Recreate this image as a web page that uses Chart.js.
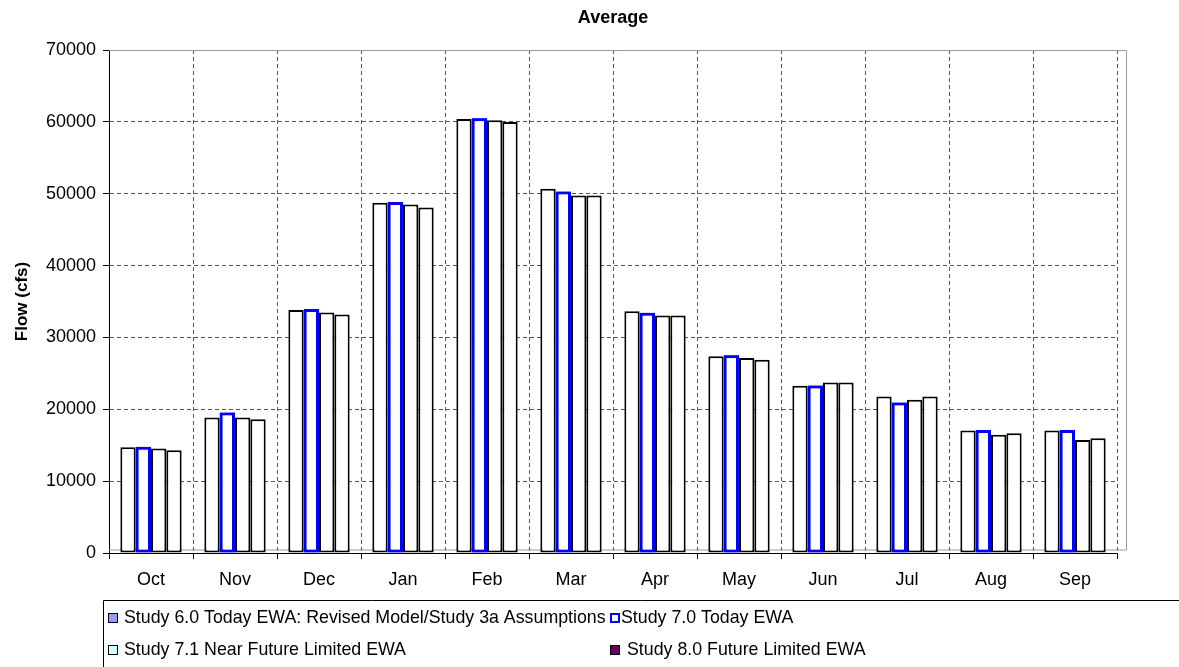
<!DOCTYPE html>
<html>
<head>
<meta charset="utf-8">
<script src="https://cdn.jsdelivr.net/npm/chart.js@4"></script>
<style>
html,body{margin:0;padding:0;background:#fff;}
#wrap{width:1179px;height:667px;position:relative;}
</style>
</head>
<body>
<div id="wrap"><canvas id="c" width="1179" height="667"></canvas></div>
<script>
const categories = ['Oct','Nov','Dec','Jan','Feb','Mar','Apr','May','Jun','Jul','Aug','Sep'];
const study60 = [14720, 18850, 33800, 48740, 60400, 50700, 33660, 27370, 23280, 21790, 17040, 17040];
const study70 = [14800, 19540, 33940, 48840, 60490, 50320, 33420, 27510, 23320, 20950, 17130, 17130];
const study71 = [14530, 18850, 33480, 48510, 60220, 49760, 33060, 27140, 23740, 21320, 16440, 15740];
const study80 = [14300, 18620, 33200, 48090, 59980, 49760, 33060, 26910, 23740, 21790, 16670, 15970];
const seriesLabels = [
  'Study 6.0 Today EWA: Revised Model/Study 3a Assumptions',
  'Study 7.0 Today EWA',
  'Study 7.1 Near Future Limited EWA',
  'Study 8.0 Future Limited EWA'
];
const yTicks = [0, 10000, 20000, 30000, 40000, 50000, 60000, 70000];

const FONT = 'Arial, "Liberation Sans", sans-serif';

function ds(label, data, border, width) {
  return {
    label, data,
    backgroundColor: '#ffffff',
    borderColor: border,
    borderWidth: width,
    borderSkipped: false,
    categoryPercentage: 0.73,
    barPercentage: 1.0
  };
}

const plotFrame = {
  id: 'plotFrame',
  beforeDatasetsDraw(chart) {
    const a = chart.chartArea, ctx = chart.ctx;
    ctx.save();
    ctx.strokeStyle = '#9a9a9a';
    ctx.lineWidth = 1;
    ctx.beginPath();
    ctx.moveTo(a.left, a.top + 0.5);
    ctx.lineTo(a.right + 9.5, a.top + 0.5);
    ctx.lineTo(a.right + 9.5, a.bottom - 3);
    ctx.lineTo(a.left, a.bottom - 3);
    ctx.stroke();
    ctx.restore();
  },
  afterDatasetsDraw(chart) {
    // bring the blue series to the front, like the reference
    const meta = chart.getDatasetMeta(1);
    const ctx = chart.ctx;
    ctx.save();
    meta.controller.draw();
    ctx.restore();
  }
};

const legendSwatches = [
  {fill: '#9999FF', stroke: '#000000', lw: 1},
  {fill: '#ffffff', stroke: '#0000FF', lw: 2},
  {fill: '#CCFFFF', stroke: '#000000', lw: 1},
  {fill: '#660066', stroke: '#000000', lw: 1}
];
const legendPos = [
  {sx: 108, sy: 613, tx: 124, ty: 618},
  {sx: 610, sy: 613, tx: 621, ty: 618},
  {sx: 108, sy: 645, tx: 124, ty: 650},
  {sx: 610, sy: 645, tx: 627, ty: 650}
];
const customLegend = {
  id: 'customLegend',
  afterDraw(chart) {
    const ctx = chart.ctx;
    ctx.save();
    ctx.strokeStyle = '#000';
    ctx.lineWidth = 1;
    ctx.beginPath();
    ctx.moveTo(103.5, 667);
    ctx.lineTo(103.5, 600.5);
    ctx.lineTo(1179, 600.5);
    ctx.stroke();
    ctx.font = '17.8px ' + FONT;
    ctx.fillStyle = '#000';
    ctx.textBaseline = 'middle';
    ctx.textAlign = 'left';
    chart.data.datasets.forEach((d, i) => {
      const s = legendSwatches[i], p = legendPos[i];
      ctx.fillStyle = s.fill;
      ctx.fillRect(p.sx, p.sy, 10, 10);
      ctx.strokeStyle = s.stroke;
      ctx.lineWidth = s.lw;
      ctx.strokeRect(p.sx + s.lw / 2, p.sy + s.lw / 2, 10 - s.lw, 10 - s.lw);
      ctx.fillStyle = '#000';
      ctx.fillText(d.label, p.tx, p.ty);
    });
    ctx.restore();
  }
};

new Chart(document.getElementById('c'), {
  type: 'bar',
  data: {
    labels: categories,
    datasets: [
      ds(seriesLabels[0], study60, '#000000', 2),
      ds(seriesLabels[1], study70, '#0000FF', 3),
      ds(seriesLabels[2], study71, '#000000', 2),
      ds(seriesLabels[3], study80, '#000000', 2)
    ]
  },
  options: {
    responsive: false,
    animation: false,
    layout: {padding: {left: 0, right: 62, top: 0, bottom: 67}},
    plugins: {
      legend: {display: false},
      tooltip: {enabled: false},
      title: {
        display: true,
        text: 'Average',
        fullSize: false,
        color: '#000',
        font: {family: FONT, size: 18, weight: 'bold'},
        padding: {top: 7, bottom: 21.4}
      }
    },
    scales: {
      x: {
        afterFit(s) { s.height = 47; },
        grid: {
          offset: true,
          color: '#555',
          lineWidth: 1,
          tickLength: 6,
          tickColor: '#000',
          tickBorderDash: []
        },
        border: {display: true, color: '#000', width: 1, dash: [4, 3]},
        ticks: {color: '#000', font: {family: FONT, size: 18}, padding: 10, maxRotation: 0}
      },
      y: {
        min: 0,
        max: 70000,
        afterFit(s) { s.width = 109; },
        afterBuildTicks(s) { s.ticks = yTicks.map(v => ({value: v})); },
        grid: {
          color: '#555',
          lineWidth: 1,
          tickLength: 6,
          tickColor: '#000',
          tickBorderDash: []
        },
        border: {display: true, color: '#000', width: 1, dash: [4, 3]},
        ticks: {
          color: '#000',
          font: {family: FONT, size: 18},
          padding: 7,
          callback: v => String(v)
        },
        title: {
          display: true,
          text: 'Flow (cfs)',
          color: '#000',
          font: {family: FONT, size: 17, weight: 'bold'},
          padding: {top: 12, bottom: 0}
        }
      }
    }
  },
  plugins: [plotFrame, customLegend]
});
</script>
</body>
</html>
